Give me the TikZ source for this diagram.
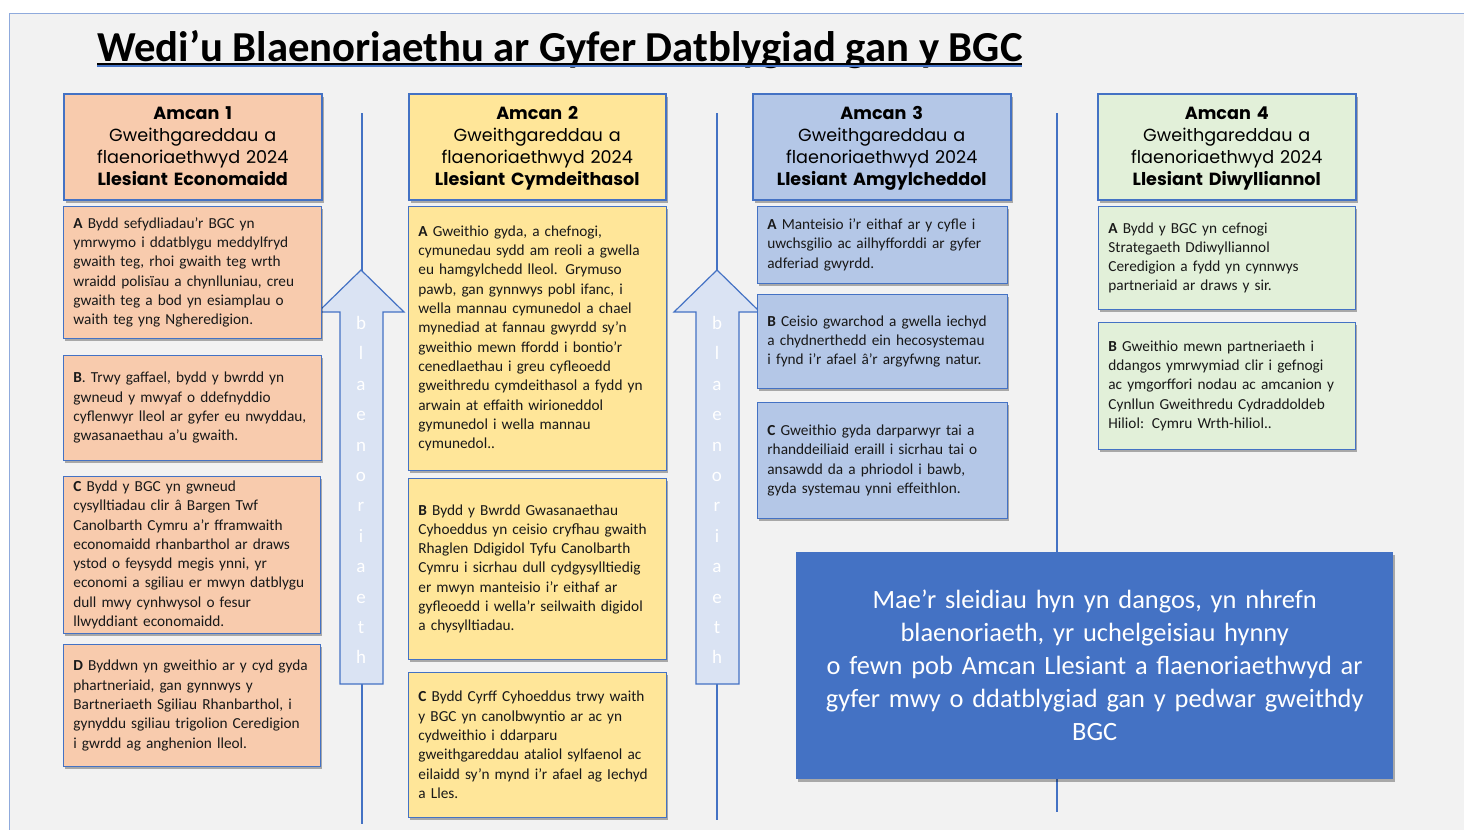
\documentclass[tikz,border=0pt]{standalone}
\usepackage{fontspec}
\setmainfont{Carlito}
\newfontfamily\headfont{Poppins}
\usetikzlibrary{shadows,positioning}

\definecolor{accent}{HTML}{4472C4}
\definecolor{peach}{HTML}{F8CBAD}
\definecolor{sand}{HTML}{FFE699}
\definecolor{sky}{HTML}{B4C7E7}
\definecolor{mint}{HTML}{E2F0D9}
\definecolor{pale}{HTML}{DAE3F3}
\definecolor{slide}{HTML}{F2F2F2}
\definecolor{rim}{HTML}{8FAADC}

\tikzset{
  boxshadow/.style={drop shadow={shadow xshift=2pt, shadow yshift=-3pt, fill=black, opacity=0.3}}, % soft shadow under every box
  headbox/.style={draw=accent, line width=1.5pt, boxshadow, anchor=north west, align=center,
    inner xsep=0pt, inner ysep=0pt, minimum height=106pt, font=\headfont\fontsize{17.6}{22}\selectfont,
    execute at begin node={\rule{0pt}{16.5pt}}},
  bodybox/.style={draw=accent, line width=0.8pt, boxshadow, anchor=north west, align=left,
    inner xsep=10pt, inner ysep=0pt, text=black!90, font=\fontsize{15.3}{19.3}\selectfont},
  sepline/.style={draw=accent, line width=1.2pt},
  blockarrow/.style={draw=accent, fill=pale, line width=1.2pt},
  arrowtext/.style={align=center, text=white, inner sep=0pt, font=\fontsize{19}{30.4}\selectfont},
  notebox/.style={fill=accent, boxshadow, anchor=north west, align=center, text=white,
    inner sep=0pt, minimum height=227pt, font=\fontsize{26.4}{33}\selectfont}
}

\begin{document}
\begin{tikzpicture}[x=1pt, y=-1pt]
  \useasboundingbox (0,0) rectangle (1464,830);
  % slide background
  \fill[slide] (9,13) rectangle (1464,830);
  \draw[rim, line width=0.8pt] (1464,13) -- (9,13) -- (9,830);

  % title
  \node[anchor=base west, inner sep=0pt, font=\bfseries\fontsize{42.7}{50}\selectfont] (title) at (97,61)
    {Wedi’u Blaenoriaethu ar Gyfer Datblygiad gan y BGC};
  \draw[black, line width=2pt] (97,63.5) -- (1022,63.5);
  \draw[accent, line width=1.2pt] (97,66) -- (1022,66);

  % separators
  \draw[sepline] (362,113) -- (362,824);
  \draw[sepline] (717,113) -- (717,820);
  \draw[sepline] (1057,113) -- (1057,812);

  % priority arrows
  \draw[blockarrow] (361,270) -- (404,312) -- (383,312) -- (383,684) -- (340,684) -- (340,312) -- (318,312) -- cycle;
  \node[arrowtext] (prioa) at (361,490) {b\\l\\a\\e\\n\\o\\r\\i\\a\\e\\t\\h};
  \draw[blockarrow] (717,270) -- (760,312) -- (739,312) -- (739,684) -- (696,684) -- (696,312) -- (674,312) -- cycle;
  \node[arrowtext] (priob) at (717,490) {b\\l\\a\\e\\n\\o\\r\\i\\a\\e\\t\\h};

  % headers
  \node[headbox, fill=peach, text width=258pt] (econ) at (63,93)
    {\textbf{Amcan 1}\\Gweithgareddau a\\flaenoriaethwyd 2024\\\textbf{Llesiant Economaidd}\vphantom{y}};
  \node[headbox, fill=sand, text width=257pt] (soc) at (408,93)
    {\textbf{Amcan 2}\\Gweithgareddau a\\flaenoriaethwyd 2024\\\textbf{Llesiant Cymdeithasol}};
  \node[headbox, fill=sky, text width=258pt] (env) at (752,93)
    {\textbf{Amcan 3}\\Gweithgareddau a\\flaenoriaethwyd 2024\\\textbf{Llesiant Amgylcheddol}};
  \node[headbox, fill=mint, text width=258pt] (cult) at (1097,93)
    {\textbf{Amcan 4}\\Gweithgareddau a\\flaenoriaethwyd 2024\\\textbf{Llesiant Diwylliannol}};

  % Amcan 1
  \node[bodybox, fill=peach, text width=238pt, minimum height=132pt] (econa) at (63,206)
    {\textbf{A} Bydd sefydliadau’r BGC yn\\ymrwymo i ddatblygu meddylfryd\\gwaith teg, rhoi gwaith teg wrth\\wraidd polisïau a chynlluniau, creu\\gwaith teg a bod yn esiamplau o\\waith teg yng Ngheredigion.};
  \node[bodybox, fill=peach, text width=238pt, minimum height=105pt] (econb) at (63,355)
    {\textbf{B}. Trwy gaffael, bydd y bwrdd yn\\gwneud y mwyaf o ddefnyddio\\cyflenwyr lleol ar gyfer eu nwyddau,\\gwasanaethau a’u gwaith.};
  \node[bodybox, fill=peach, text width=237pt, minimum height=157pt] (econc) at (63,476)
    {\textbf{C} Bydd y BGC yn gwneud\\cysylltiadau clir â Bargen Twf\\Canolbarth Cymru a’r fframwaith\\economaidd rhanbarthol ar draws\\ystod o feysydd megis ynni, yr\\economi a sgiliau er mwyn datblygu\\dull mwy cynhwysol o fesur\\llwyddiant economaidd.};
  \node[bodybox, fill=peach, text width=237pt, minimum height=122pt] (econd) at (63,644)
    {\textbf{D} Byddwn yn gweithio ar y cyd gyda\\phartneriaid, gan gynnwys y\\Bartneriaeth Sgiliau Rhanbarthol, i\\gynyddu sgiliau trigolion Ceredigion\\i gwrdd ag anghenion lleol.};

  % Amcan 2
  \node[bodybox, fill=sand, text width=238pt, minimum height=264pt] (soca) at (408,206)
    {\textbf{A} Gweithio gyda, a chefnogi,\\cymunedau sydd am reoli a gwella\\eu hamgylchedd lleol. Grymuso\\pawb, gan gynnwys pobl ifanc, i\\wella mannau cymunedol a chael\\mynediad at fannau gwyrdd sy’n\\gweithio mewn ffordd i bontio’r\\cenedlaethau i greu cyfleoedd\\gweithredu cymdeithasol a fydd yn\\arwain at effaith wirioneddol\\gymunedol i wella mannau\\cymunedol..};
  \node[bodybox, fill=sand, text width=238pt, minimum height=181pt] (socb) at (408,478)
    {\textbf{B} Bydd y Bwrdd Gwasanaethau\\Cyhoeddus yn ceisio cryfhau gwaith\\Rhaglen Ddigidol Tyfu Canolbarth\\Cymru i sicrhau dull cydgysylltiedig\\er mwyn manteisio i’r eithaf ar\\gyfleoedd i wella’r seilwaith digidol\\a chysylltiadau.};
  \node[bodybox, fill=sand, text width=238pt, minimum height=145pt] (socc) at (408,672)
    {\textbf{C} Bydd Cyrff Cyhoeddus trwy waith\\y BGC yn canolbwyntio ar ac yn\\cydweithio i ddarparu\\gweithgareddau ataliol sylfaenol ac\\eilaidd sy’n mynd i’r afael ag Iechyd\\a Lles.};

  % Amcan 3
  \node[bodybox, fill=sky, text width=230pt, minimum height=77pt] (enva) at (757,206)
    {\textbf{A} Manteisio i’r eithaf ar y cyfle i\\uwchsgilio ac ailhyfforddi ar gyfer\\adferiad gwyrdd.};
  \node[bodybox, fill=sky, text width=230pt, minimum height=94pt] (envb) at (757,294)
    {\textbf{B} Ceisio gwarchod a gwella iechyd\\a chydnerthedd ein hecosystemau\\i fynd i’r afael â’r argyfwng natur.};
  \node[bodybox, fill=sky, text width=230pt, minimum height=116pt] (envc) at (757,402)
    {\textbf{C} Gweithio gyda darparwyr tai a\\rhanddeiliaid eraill i sicrhau tai o\\ansawdd da a phriodol i bawb,\\gyda systemau ynni effeithlon.};

  % Amcan 4
  \node[bodybox, fill=mint, text width=237pt, minimum height=103pt] (culta) at (1098,206)
    {\textbf{A} Bydd y BGC yn cefnogi\\Strategaeth Ddiwylliannol\\Ceredigion a fydd yn cynnwys\\partneriaid ar draws y sir.};
  \node[bodybox, fill=mint, text width=237pt, minimum height=127pt] (cultb) at (1098,322)
    {\textbf{B} Gweithio mewn partneriaeth i\\ddangos ymrwymiad clir i gefnogi\\ac ymgorffori nodau ac amcanion y\\Cynllun Gweithredu Cydraddoldeb\\Hiliol: Cymru Wrth-hiliol..};

  % summary note
  \node[notebox, text width=597pt] (note) at (796,552)
    {Mae'r sleidiau hyn yn dangos, yn nhrefn\\blaenoriaeth, yr uchelgeisiau hynny\\o fewn pob Amcan Llesiant a flaenoriaethwyd ar\\gyfer mwy o ddatblygiad gan y pedwar gweithdy\\BGC};
\end{tikzpicture}
\end{document}
